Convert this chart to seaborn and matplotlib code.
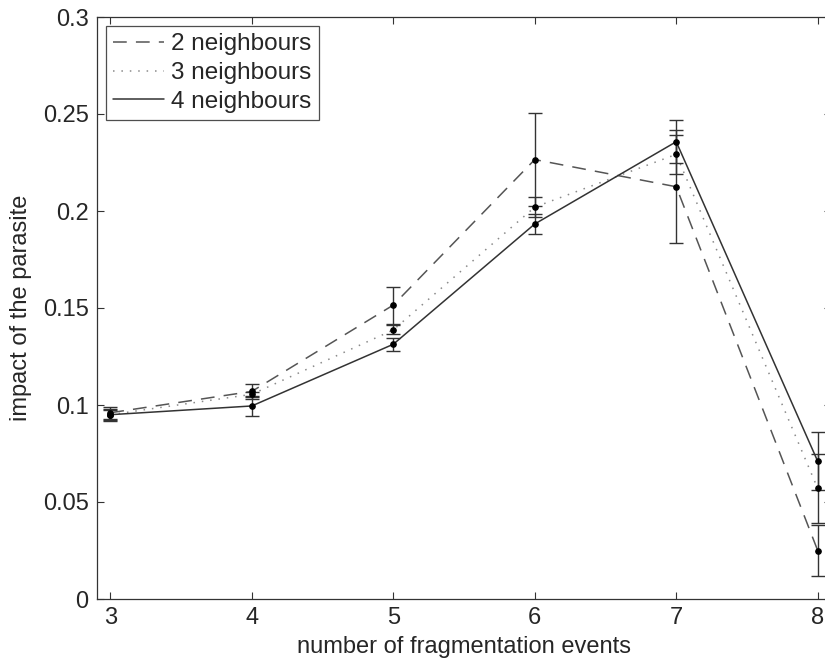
import numpy as np
import pandas as pd
import matplotlib
matplotlib.use('Agg')
import matplotlib.pyplot as plt
import seaborn as sns

# values
events = [3, 4, 5, 6, 7, 8]
n2 = [0.096, 0.107, 0.1515, 0.2265, 0.2125, 0.025]
n2_err = [0.003, 0.004, 0.0095, 0.024, 0.029, 0.013]
n3 = [0.095, 0.1055, 0.1387, 0.202, 0.2292, 0.057]
n3_err = [0.0025, 0.0012, 0.0023, 0.005, 0.010, 0.018]
n4 = [0.095, 0.0995, 0.1313, 0.1933, 0.2357, 0.071]
n4_err = [0.003, 0.005, 0.0033, 0.005, 0.011, 0.015]
labels = ['2 neighbours', '3 neighbours', '4 neighbours']

sns.set_style('ticks')
plt.rcParams['font.family'] = ['Liberation Sans', 'DejaVu Sans']

df = pd.concat([
    pd.DataFrame({'events': events, 'impact': n2, 'err': n2_err, 'series': labels[0]}),
    pd.DataFrame({'events': events, 'impact': n3, 'err': n3_err, 'series': labels[1]}),
    pd.DataFrame({'events': events, 'impact': n4, 'err': n4_err, 'series': labels[2]}),
])

colors = {labels[0]: '#555555', labels[1]: '#8a8a8a', labels[2]: '#333333'}
dashes = {labels[0]: (9, 6), labels[1]: (1, 4.5), labels[2]: ''}

fig = plt.figure(figsize=(8.25, 6.62), dpi=100)
ax = fig.add_axes([97 / 825, 63 / 662, 734 / 825, 582 / 662])

sns.lineplot(data=df, x='events', y='impact', hue='series', style='series',
             palette=colors, dashes=dashes, linewidth=1.1, ax=ax, legend=True)

# error bars and black dots
for name, g in df.groupby('series'):
    ax.errorbar(g['events'], g['impact'], yerr=g['err'], fmt='none',
                ecolor='#333333', elinewidth=1.0, capsize=5, capthick=1.0, zorder=3)
    ax.plot(g['events'], g['impact'], 'o', color='black', markersize=3.8, zorder=4)

ax.set_xlim(2.906, 8.094)
ax.set_ylim(0, 0.3)
ax.set_xticks(events)
ax.set_yticks([0, 0.05, 0.1, 0.15, 0.2, 0.25, 0.3])
ax.set_yticklabels(['0', '0.05', '0.1', '0.15', '0.2', '0.25', '0.3'])
ax.tick_params(direction='in', top=True, right=True, length=5, width=0.8,
               labelsize=17, pad=6, color='#333333')
for s in ax.spines.values():
    s.set_visible(True)
    s.set_linewidth(0.9)
    s.set_color('#333333')

ax.set_xlabel('number of fragmentation events', fontsize=17, labelpad=5)
ax.set_ylabel('impact of the parasite', fontsize=17, labelpad=8)

leg = ax.legend(loc='upper left', bbox_to_anchor=(8.7 / 734, 1 - 9 / 582),
                borderaxespad=0, fontsize=17.5, frameon=True, fancybox=False,
                handlelength=2.1, handletextpad=0.3, labelspacing=0.28,
                borderpad=0.3, title=None)
leg.get_frame().set_edgecolor('#222222')
leg.get_frame().set_linewidth(0.9)

fig.savefig('out.png', dpi=100)
